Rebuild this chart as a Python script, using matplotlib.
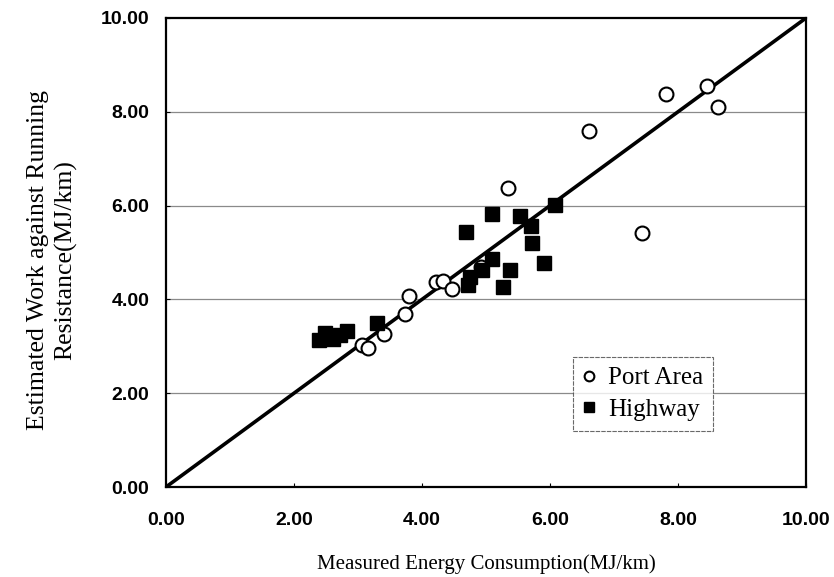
import matplotlib
matplotlib.use("Agg")
import matplotlib.pyplot as plt
import numpy as np

# Port Area (open circles)
port_x = [7.81, 8.45, 8.63, 6.61, 5.34, 7.43, 4.22, 4.33, 4.47, 3.79, 3.73, 3.41, 3.07, 3.16, 4.92]
port_y = [8.39, 8.55, 8.11, 7.60, 6.38, 5.42, 4.38, 4.40, 4.22, 4.07, 3.68, 3.26, 3.03, 2.96, 4.70]

# Highway (filled squares)
hw_x = [6.08, 5.09, 5.53, 5.70, 4.68, 5.72, 5.90, 5.37, 5.26, 5.09, 4.94, 4.75, 4.72,
        3.30, 2.39, 2.48, 2.61, 2.72, 2.83]
hw_y = [6.01, 5.82, 5.78, 5.57, 5.44, 5.20, 4.78, 4.63, 4.27, 4.87, 4.63, 4.48, 4.31,
        3.50, 3.13, 3.28, 3.16, 3.24, 3.33]

# 1:1 line
fit_x = [0.0, 10.0]
fit_y = [0.0, 10.0]

ticks = [0, 2, 4, 6, 8, 10]
tick_labels = ["0.00", "2.00", "4.00", "6.00", "8.00", "10.00"]

W, H = 834, 577
fig = plt.figure(figsize=(W / 100, H / 100), dpi=100)
ax = fig.add_axes([166 / W, 1 - 487 / H, 640 / W, 469 / H])

ax.set_xlim(0, 10)
ax.set_ylim(0, 10)

for yv in [2, 4, 6, 8]:
    ax.axhline(yv, color="#8a8a8a", lw=0.9, zorder=0)

ax.plot(fit_x, fit_y, color="black", lw=2.6, zorder=2)
ax.plot(port_x, port_y, linestyle="none", marker="o", ms=10, mfc="white",
        mec="black", mew=1.5, zorder=3, label="Port Area")
ax.plot(hw_x, hw_y, linestyle="none", marker="s", ms=10, mfc="black",
        mec="black", zorder=4, label="Highway")

ax.set_xticks(ticks)
ax.set_yticks(ticks)
tick_font = dict(family="Liberation Sans", weight="bold", size=14)
ax.set_xticklabels(tick_labels, fontdict=tick_font)
ax.set_yticklabels(tick_labels, fontdict=tick_font)
ax.tick_params(axis="x", direction="in", length=3, pad=18)
ax.tick_params(axis="y", direction="in", length=3, pad=12)

for s in ax.spines.values():
    s.set_linewidth(1.6)
    s.set_color("black")

serif = "Liberation Serif"
ax.set_xlabel("Measured Energy Consumption(MJ/km)", family=serif, size=15, labelpad=18)
fig.text(52 / W, 1 - 260 / H, "Estimated Work against Running\nResistance(MJ/km)",
         family=serif, size=18.5, rotation=90, ha="center", va="center",
         multialignment="center", linespacing=1.3)

leg = ax.legend(loc="lower left", bbox_to_anchor=(0.636, 0.12),
                prop=dict(family=serif, size=18), frameon=True, fancybox=False,
                edgecolor="#444444", handlelength=0.5, handletextpad=0.5,
                borderpad=0.4, labelspacing=0.35, markerscale=0.7,
                borderaxespad=0)
leg.get_frame().set_linewidth(0.8)
leg.get_frame().set_linestyle((0, (4, 1)))

fig.savefig("out.png", dpi=100)
